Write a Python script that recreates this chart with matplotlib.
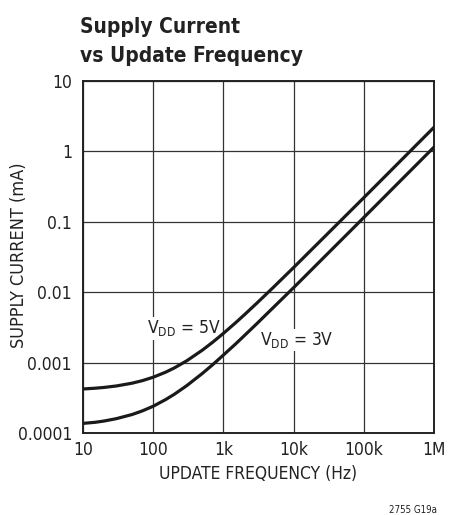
import matplotlib
matplotlib.use("Agg")
import matplotlib.pyplot as plt
from matplotlib import font_manager
from matplotlib.ticker import FixedLocator, NullLocator

# use a condensed face if the system has one, else Liberation Sans
cond = [f.name for f in font_manager.fontManager.ttflist
        if f.stretch in ('condensed', 'semi-condensed') or 'Narrow' in f.name or 'Condensed' in f.name]
fam = cond[0] if cond else 'Liberation Sans'
plt.rcParams['font.family'] = [fam, 'DejaVu Sans']
plt.rcParams['font.stretch'] = 'condensed'
plt.rcParams['mathtext.fontset'] = 'custom'
plt.rcParams['mathtext.rm'] = fam

# data
freq = [10, 15, 20, 30, 50, 70, 100, 150, 200, 300, 500, 700,
        1e3, 1.5e3, 2e3, 3e3, 5e3, 1e4, 1e5, 1e6]
i_5v = [4.22e-4, 4.33e-4, 4.44e-4, 4.66e-4, 5.1e-4, 5.54e-4, 6.2e-4, 7.3e-4, 8.4e-4, 1.06e-3, 1.5e-3, 1.94e-3,
        2.6e-3, 3.7e-3, 4.8e-3, 7.0e-3, 1.14e-2, 2.24e-2, 2.2e-1, 2.2]
i_3v = [1.37e-4, 1.42e-4, 1.48e-4, 1.6e-4, 1.83e-4, 2.06e-4, 2.4e-4, 2.98e-4, 3.55e-4, 4.7e-4, 7.0e-4, 9.3e-4,
        1.28e-3, 1.85e-3, 2.43e-3, 3.58e-3, 5.9e-3, 1.16e-2, 1.15e-1, 1.15]

x_ticks = [10, 100, 1e3, 1e4, 1e5, 1e6]
x_labels = ['10', '100', '1k', '10k', '100k', '1M']
y_ticks = [1e-4, 1e-3, 1e-2, 1e-1, 1, 10]
y_labels = ['0.0001', '0.001', '0.01', '0.1', '1', '10']

W, H = 462, 515
fig = plt.figure(figsize=(W / 100, H / 100), dpi=100)
ax = fig.add_axes([83 / W, 1 - 433 / H, 351 / W, 352 / H])

ax.plot(freq, i_5v, color='#1a1a1a', lw=2.3, zorder=3)
ax.plot(freq, i_3v, color='#1a1a1a', lw=2.3, zorder=3)

ax.set_xscale('log')
ax.set_yscale('log')
ax.set_xlim(10, 1e6)
ax.set_ylim(1e-4, 10)
ax.xaxis.set_major_locator(FixedLocator(x_ticks))
ax.yaxis.set_major_locator(FixedLocator(y_ticks))
ax.xaxis.set_minor_locator(NullLocator())
ax.yaxis.set_minor_locator(NullLocator())
ax.set_xticklabels(x_labels)
ax.set_yticklabels(y_labels)
ax.tick_params(length=0, labelsize=12.5, colors='#222222')
ax.tick_params(axis='x', pad=6)
ax.tick_params(axis='y', pad=8)
ax.grid(True, color='#333333', lw=0.9)
for s in ax.spines.values():
    s.set_linewidth(1.4)
    s.set_color('#222222')

ax.set_xlabel('UPDATE FREQUENCY (Hz)', fontsize=12.5, color='#222222', labelpad=4)
ax.set_ylabel('SUPPLY CURRENT (mA)', fontsize=13, color='#222222')
ax.yaxis.set_label_coords((28 - 83) / 351, 0.506)

box = dict(facecolor='white', edgecolor='none', pad=1)
ax.text(81, 2.6e-3, r'$\mathregular{V_{DD}}$ = 5V', fontsize=12.5, color='#222222', bbox=box, zorder=2)
ax.text(3.3e3, 1.78e-3, r'$\mathregular{V_{DD}}$ = 3V', fontsize=12.5, color='#222222', bbox=box, zorder=2)

fig.text(80 / W, 1 - 33 / H, 'Supply Current', fontsize=15, fontweight='bold',
         color='#222222', ha='left', va='baseline')
fig.text(80 / W, 1 - 62 / H, 'vs Update Frequency', fontsize=15, fontweight='bold',
         color='#222222', ha='left', va='baseline')
fig.text(437 / W, 1 - 513 / H, '2755 G19a', fontsize=7, color='#222222', ha='right', va='baseline')

fig.savefig('out.png', dpi=100)
